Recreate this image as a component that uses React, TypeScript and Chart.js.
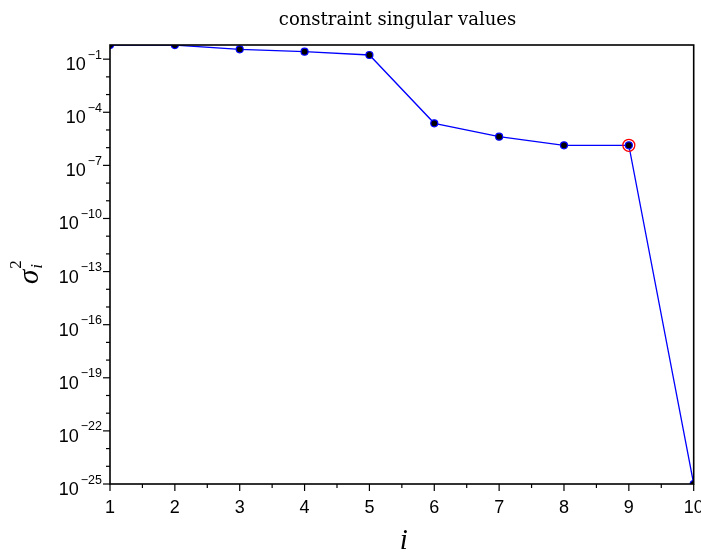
import React, { useEffect, useRef } from 'react';
import { Chart, registerables } from 'chart.js';

Chart.register(...registerables);

// ---- data ----
const indices: number[] = [1, 2, 3, 4, 5, 6, 7, 8, 9, 10];
const sigmaSquared: number[] = [0.631, 0.625, 0.36, 0.264, 0.172, 2.38e-5, 4.17e-6, 1.36e-6, 1.36e-6, 1e-25];
const highlightIndex: number[] = [9];
const highlightValue: number[] = [1.36e-6];
const yDecadeExponents: number[] = [-25, -24, -23, -22, -21, -20, -19, -18, -17, -16, -15, -14, -13, -12, -11, -10, -9, -8, -7, -6, -5, -4, -3, -2, -1];
const yLabelExponents: number[] = [-1, -4, -7, -10, -13, -16, -19, -22, -25];
const xTickValues: number[] = [1, 1.5, 2, 2.5, 3, 3.5, 4, 4.5, 5, 5.5, 6, 6.5, 7, 7.5, 8, 8.5, 9, 9.5, 10];
const xTickLabels: string[] = ['1', '2', '3', '4', '5', '6', '7', '8', '9', '10'];
const yMin = 1e-25;
const yMax = 0.631;
const titleText = 'constraint singular values';
const xAxisTitle = 'i';

const SANS = '"Liberation Sans", Arial, sans-serif';
const SERIF = '"DejaVu Serif", serif';
const ISERIF = '"Liberation Serif", serif';

const decorPlugin = {
  id: 'decor',
  afterDraw(chart: any) {
    const ctx: CanvasRenderingContext2D = chart.ctx;
    const area = chart.chartArea;
    const xs = chart.scales.x;
    const ys = chart.scales.y;
    ctx.save();
    ctx.strokeStyle = '#000';
    ctx.fillStyle = '#000';

    // frame
    ctx.lineWidth = 1.6;
    ctx.strokeRect(area.left, area.top, area.right - area.left, area.bottom - area.top);

    // y ticks
    ctx.lineWidth = 1.2;
    for (const t of ys.ticks) {
      const e = Math.round(Math.log10(t.value));
      const py = ys.getPixelForValue(t.value);
      const len = yLabelExponents.includes(e) ? 7 : 4;
      ctx.beginPath();
      ctx.moveTo(area.left - len, py);
      ctx.lineTo(area.left, py);
      ctx.stroke();
    }
    // y labels
    ctx.textBaseline = 'alphabetic';
    for (const e of yLabelExponents) {
      const py = ys.getPixelForValue(Math.pow(10, e));
      const expStr = '\u2212' + String(Math.abs(e));
      ctx.font = '12.5px ' + SANS;
      const expW = ctx.measureText(expStr).width;
      const right = 102;
      const expX = right - expW;
      ctx.textAlign = 'left';
      ctx.fillText(expStr, expX, py - 0.5);
      ctx.font = '18px ' + SANS;
      ctx.textAlign = 'right';
      ctx.fillText('10', expX - 2, py + 11);
    }

    // x ticks
    for (const t of xs.ticks) {
      const px = xs.getPixelForValue(t.value);
      const len = Number.isInteger(t.value) ? 7 : 4;
      ctx.beginPath();
      ctx.moveTo(px, area.bottom);
      ctx.lineTo(px, area.bottom + len);
      ctx.stroke();
    }
    ctx.font = '18px ' + SANS;
    ctx.textAlign = 'center';
    xTickLabels.forEach((lab) => {
      const v = Number(lab);
      ctx.fillText(lab, xs.getPixelForValue(v), 513);
    });

    // title
    ctx.font = '18px ' + SERIF;
    ctx.textAlign = 'center';
    ctx.fillText(titleText, 397.5, 25);

    // x axis title
    ctx.font = 'italic 29px ' + ISERIF;
    ctx.fillText(xAxisTitle, (area.left + area.right) / 2 + 2, 549);

    // y axis title (rotated): sigma_i^2
    ctx.save();
    ctx.translate(38, 284);
    ctx.rotate(-Math.PI / 2);
    ctx.textAlign = 'left';
    ctx.font = 'italic 29px ' + ISERIF;
    ctx.fillText('\u03C3', 0, 0);
    const sw = ctx.measureText('\u03C3').width;
    ctx.font = '17px ' + ISERIF;
    ctx.fillText('2', sw + 1, -17);
    ctx.font = 'italic 17px ' + ISERIF;
    ctx.fillText('i', sw + 1, 4);
    ctx.restore();

    ctx.restore();
  },
};

export default function App() {
  const ref = useRef<HTMLCanvasElement | null>(null);
  useEffect(() => {
    if (!ref.current) return;
    const chart = new Chart(ref.current, {
      type: 'line',
      data: {
        datasets: [
          {
            data: highlightIndex.map((x, k) => ({ x, y: highlightValue[k] })),
            showLine: false,
            pointRadius: 6,
            pointBorderWidth: 1.3,
            pointBorderColor: '#ff0000',
            pointBackgroundColor: 'rgba(0,0,0,0)',
          },
          {
            data: indices.map((x, k) => ({ x, y: sigmaSquared[k] })),
            borderColor: '#0000ff',
            borderWidth: 1.3,
            pointRadius: 3.5,
            pointBorderWidth: 1.2,
            pointBorderColor: '#0000ff',
            pointBackgroundColor: '#000000',
            tension: 0,
          },
        ],
      },
      options: {
        animation: false,
        responsive: false,
        layout: { padding: { top: 45, right: 7, left: 0, bottom: 0 } },
        plugins: { legend: { display: false }, tooltip: { enabled: false }, title: { display: false } },
        scales: {
          x: {
            type: 'linear',
            min: 1,
            max: 10,
            ticks: { display: false },
            grid: { display: false },
            border: { display: false },
            afterBuildTicks: (s: any) => {
              s.ticks = xTickValues.map((v) => ({ value: v }));
            },
            afterFit: (s: any) => {
              s.height = 75;
            },
          },
          y: {
            type: 'logarithmic',
            min: yMin,
            max: yMax,
            ticks: { display: false },
            grid: { display: false },
            border: { display: false },
            afterBuildTicks: (s: any) => {
              s.ticks = yDecadeExponents.map((e) => ({ value: Math.pow(10, e) }));
            },
            afterFit: (s: any) => {
              s.width = 110;
            },
          },
        },
      },
      plugins: [decorPlugin],
    });
    return () => chart.destroy();
  }, []);
  return (
    <div style={{ position: 'absolute', left: 0, top: 0, width: 701, height: 559, background: '#fff' }}>
      <canvas ref={ref} width={701} height={559} style={{ display: 'block' }} />
    </div>
  );
}
